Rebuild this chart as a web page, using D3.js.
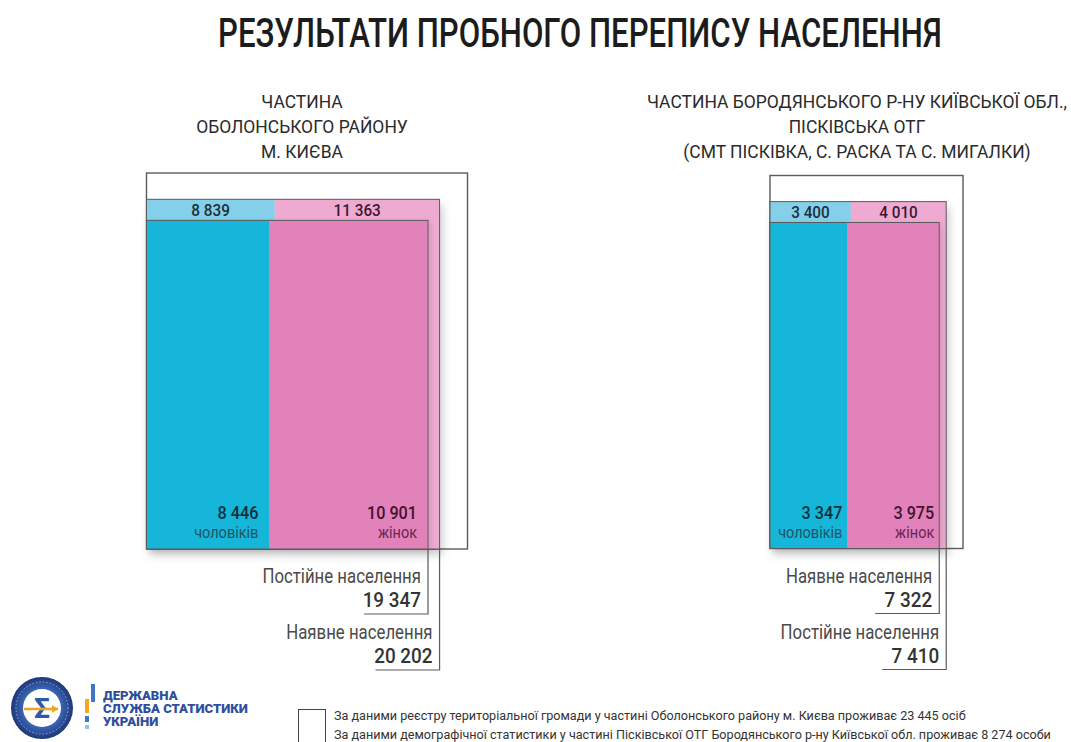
<!DOCTYPE html>
<html lang="uk">
<head>
<meta charset="utf-8">
<title>Результати пробного перепису населення</title>
<script src="https://cdn.jsdelivr.net/npm/d3@7"></script>
<style>
  html, body { margin: 0; padding: 0; background: #ffffff; }
  svg { display: block; font-family: Roboto, "Noto Sans", "DejaVu Sans", sans-serif; }
</style>
</head>
<body>
<svg id="chart" width="1071" height="742"></svg>
<script>
// ---- data ----------------------------------------------------------------
const chartTitle = "РЕЗУЛЬТАТИ ПРОБНОГО ПЕРЕПИСУ НАСЕЛЕННЯ";
const regionTitles = [
  ["ЧАСТИНА", "ОБОЛОНСЬКОГО РАЙОНУ", "М. КИЄВА"],
  ["ЧАСТИНА БОРОДЯНСЬКОГО Р-НУ КИЇВСЬКОЇ ОБЛ.,", "ПІСКІВСЬКА ОТГ", "(СМТ ПІСКІВКА, С. РАСКА ТА С. МИГАЛКИ)"]
];
// population according to registers / demographic statistics (outer frame)
const referenceTotals = [23445, 8274];
// "наявне населення" (present population) by sex
const presentMen   = [8839, 3347];
const presentWomen = [11363, 3975];
// "постійне населення" (resident population) by sex
const residentMen   = [8446, 3400];
const residentWomen = [10901, 4010];
const populationLabels = { present: "Наявне населення", resident: "Постійне населення" };
const sexLabels = ["чоловіків", "жінок"];
const footnotes = [
  n => `За даними реєстру територіальної громади у частині Оболонського району м. Києва проживає ${n} осіб`,
  n => `За даними демографічної статистики у частині Пісківської ОТГ Бородянського р-ну Київської обл. проживає ${n} особи`
];
const agencyName = ["ДЕРЖАВНА", "СЛУЖБА СТАТИСТИКИ", "УКРАЇНИ"];

// ---- layout --------------------------------------------------------------
const layout = [
  { x0: 146.5, bottom: 549,   w: 321, h: 376, titleX: 302, pad: 11 },
  { x0: 770,   bottom: 548.5, w: 193, h: 373, titleX: 857, pad: 5 }
];
// nested blocks: frame, larger population, smaller population
const levels = ["frame", "outer", "inner"];
const widthShare  = d3.scaleOrdinal().domain(levels).range([1, 0.913, 0.877]);
const heightShare = d3.scaleOrdinal().domain(levels).range([1, 0.93, 0.874]);

const colors = {
  lightMen: "#84d0ea", lightWomen: "#efaad1",
  darkMen: "#18b6da",  darkWomen: "#e182bb",
  stroke: "#5b5b5b", text: "#2b2b2b"
};
const SX = 0.86; // horizontal squeeze for a condensed look

const fmt = d3.formatLocale({ decimal: ",", thousands: " ", grouping: [3], currency: ["", ""] }).format(",d");

const svg = d3.select("#chart");
const defs = svg.append("defs");
const shadow = defs.append("filter").attr("id", "shadow")
  .attr("x", "-10%").attr("y", "-10%").attr("width", "130%").attr("height", "130%");
shadow.append("feDropShadow").attr("dx", 3).attr("dy", 6).attr("stdDeviation", 4)
  .attr("flood-color", "#000").attr("flood-opacity", 0.2);
const innerShadow = defs.append("filter").attr("id", "innerShadow")
  .attr("x", "-10%").attr("y", "-10%").attr("width", "130%").attr("height", "130%");
innerShadow.append("feDropShadow").attr("dx", 2).attr("dy", 2).attr("stdDeviation", 3)
  .attr("flood-color", "#000").attr("flood-opacity", 0.14);

// squeezed text helper
function label(g, x, y, text, o = {}) {
  return g.append("text")
    .attr("transform", `translate(${x},${y}) scale(${o.sx ?? SX},1)`)
    .attr("text-anchor", o.anchor || "start")
    .attr("font-size", o.size || 16)
    .attr("font-weight", o.weight || 400)
    .attr("fill", o.fill || colors.text)
    .text(text);
}

// ---- title ---------------------------------------------------------------
const title = label(svg, 580, 47, chartTitle, { anchor: "middle", size: 40, weight: 500, fill: "#1c1c1c", sx: 1 });
const titleScale = 724 / title.node().getComputedTextLength();
title.attr("transform", `translate(580,47) scale(${titleScale},1)`);

// ---- panels --------------------------------------------------------------
referenceTotals.forEach((total, i) => {
  const L = layout[i];
  const g = svg.append("g");

  // region heading
  regionTitles[i].forEach((line, k) => {
    label(g, L.titleX, 108 + k * 25, line, { anchor: "middle", size: 19, weight: 400, fill: "#2a2a2a", sx: 0.92 });
  });

  const present  = { key: "present",  men: presentMen[i],  women: presentWomen[i] };
  const resident = { key: "resident", men: residentMen[i], women: residentWomen[i] };
  [present, resident].forEach(d => d.sum = d.men + d.women);
  const [inner, outer] = [present, resident].sort((a, b) => a.sum - b.sum);

  const wScale = d3.scaleLinear().domain([0, 1]).range([0, L.w]);
  const hScale = d3.scaleLinear().domain([0, 1]).range([0, L.h]);

  // frame (reference total)
  g.append("rect")
    .attr("x", L.x0).attr("y", L.bottom - hScale(heightShare("frame")))
    .attr("width", wScale(widthShare("frame"))).attr("height", hScale(heightShare("frame")))
    .attr("fill", "none").attr("stroke", colors.stroke).attr("stroke-width", 1.4);

  function drawBlock(d, level) {
    const light = level === "outer";
    const w = wScale(widthShare(level)), h = hScale(heightShare(level)), top = L.bottom - h;
    // men / women split of the block
    const split = d3.scaleLinear().domain([0, d.sum]).range([L.x0, L.x0 + w]);
    const bg = g.append("g").attr("filter", light ? "url(#shadow)" : "url(#innerShadow)");
    bg.append("rect").attr("x", L.x0).attr("y", top)
      .attr("width", split(d.men) - L.x0).attr("height", h)
      .attr("fill", light ? colors.lightMen : colors.darkMen);
    bg.append("rect").attr("x", split(d.men)).attr("y", top)
      .attr("width", split(d.sum) - split(d.men)).attr("height", h)
      .attr("fill", light ? colors.lightWomen : colors.darkWomen);
    g.append("rect").attr("x", L.x0).attr("y", top).attr("width", w).attr("height", h)
      .attr("fill", "none").attr("stroke", colors.stroke).attr("stroke-width", 1);
    return { w, h, top, split };
  }

  const o = drawBlock(outer, "outer");
  const n = drawBlock(inner, "inner");

  // values on the light strip
  const stripMid = (o.top + n.top) / 2 + 6;
  label(g, (o.split(0) + o.split(outer.men)) / 2, stripMid, fmt(outer.men), { anchor: "middle", size: 17, weight: 500, fill: "#1d2f3a", sx: 0.9 });
  label(g, (o.split(outer.men) + o.split(outer.sum)) / 2, stripMid, fmt(outer.women), { anchor: "middle", size: 17, weight: 500, fill: "#3d1730", sx: 0.9 });

  // values inside the dark blocks
  const inMenX = n.split(inner.men) - L.pad, inWomenX = n.split(inner.sum) - L.pad;
  label(g, inMenX, L.bottom - 30, fmt(inner.men), { anchor: "end", size: 18, weight: 500, fill: "#10303c", sx: 0.9 });
  label(g, inMenX, L.bottom - 11, sexLabels[0], { anchor: "end", size: 16.5, fill: "#1f5567", sx: 0.88 });
  label(g, inWomenX, L.bottom - 30, fmt(inner.women), { anchor: "end", size: 18, weight: 500, fill: "#44122f", sx: 0.9 });
  label(g, inWomenX, L.bottom - 11, sexLabels[1], { anchor: "end", size: 16.5, fill: "#6b2451", sx: 0.88 });

  // leader lines with totals
  [[inner, n, 0], [outer, o, 1]].forEach(([d, b, k]) => {
    const xr = L.x0 + b.w;
    const base = L.bottom + (k === 0 ? 0 : 56);
    const lineY = base + 65;
    g.append("path")
      .attr("d", `M${xr},${L.bottom}V${lineY}H${xr - 64}`)
      .attr("fill", "none").attr("stroke", colors.stroke).attr("stroke-width", 1.2);
    label(g, xr - 7, base + 34, populationLabels[d.key], { anchor: "end", size: 20, fill: "#4a4a4a", sx: 0.84 });
    label(g, xr - 7, base + 58, fmt(d.sum), { anchor: "end", size: 21, weight: 500, fill: "#333", sx: 0.9 });
  });
});

// ---- footnote ------------------------------------------------------------
const foot = svg.append("g");
foot.append("rect").attr("x", 298.5).attr("y", 709.5).attr("width", 27).attr("height", 40)
  .attr("fill", "none").attr("stroke", "#444").attr("stroke-width", 1);
footnotes.forEach((f, k) => {
  label(foot, 334, 720 + k * 19, f(fmt(referenceTotals[k])), { size: 13.5, fill: "#333", sx: 0.935 });
});

// ---- agency logo ---------------------------------------------------------
const logo = svg.append("g");
const lg = defs.append("radialGradient").attr("id", "ring");
lg.append("stop").attr("offset", "60%").attr("stop-color", "#3d68b8");
lg.append("stop").attr("offset", "100%").attr("stop-color", "#1d3777");
logo.append("circle").attr("cx", 42).attr("cy", 708).attr("r", 31).attr("fill", "url(#ring)");
logo.append("circle").attr("cx", 42).attr("cy", 708).attr("r", 26).attr("fill", "none")
  .attr("stroke", "#8fb0e0").attr("stroke-width", 1).attr("stroke-dasharray", "1.5 2");
logo.append("circle").attr("cx", 42).attr("cy", 708).attr("r", 19).attr("fill", "#ffffff");
logo.append("text").attr("x", 42).attr("y", 718).attr("text-anchor", "middle")
  .attr("font-size", 28).attr("font-weight", 700).attr("fill", "#2a5aa8").text("Σ");
logo.append("path").attr("d", "M24,709H58").attr("stroke", "#f2a31f").attr("stroke-width", 2.4);
logo.append("path").attr("d", "M58,709l-6,-4v8z").attr("fill", "#f2a31f");
logo.append("rect").attr("x", 91).attr("y", 684).attr("width", 4).attr("height", 18).attr("fill", "#3b78c8");
logo.append("rect").attr("x", 85).attr("y", 699).attr("width", 4).attr("height", 14).attr("fill", "#f5a623");
logo.append("rect").attr("x", 85).attr("y", 716).attr("width", 4).attr("height", 6).attr("fill", "#3b78c8");
logo.append("rect").attr("x", 85).attr("y", 725).attr("width", 4).attr("height", 4).attr("fill", "#9bc0e8");
agencyName.forEach((t, k) => {
  label(logo, 103, 700 + k * 13, t, { size: 12.5, weight: 900, fill: "#2d4f9e", sx: 1.05 });
});
</script>
</body>
</html>
